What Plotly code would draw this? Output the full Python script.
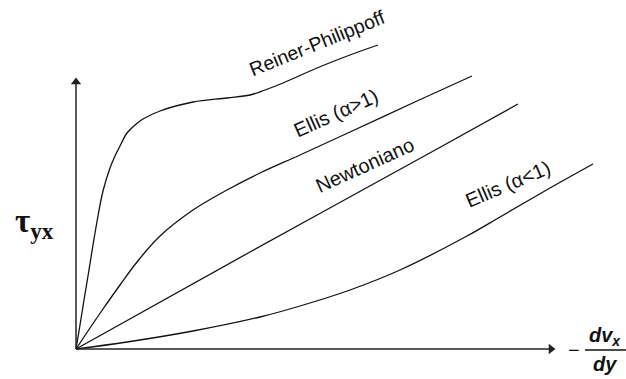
import plotly.graph_objects as go

# Curvas de fluxo (tensão de cisalhamento vs taxa de deformação)
reiner_x = [0, 4, 8, 12, 17, 22, 27, 34, 39, 44, 51, 59, 67, 84, 117, 151, 174, 189, 207, 241, 274, 302]
reiner_y = [0, 24, 49, 73, 104, 133, 158, 181, 193, 203, 216, 224, 230, 238, 247, 251, 254, 259, 266, 281, 294, 304]

ellis_gt_x = [0, 14, 27, 44, 61, 84, 117, 151, 184, 224, 274, 341, 396]
ellis_gt_y = [0, 21, 40, 64, 87, 113, 139, 159, 176, 194, 217, 248, 273]

newton_x = [0, 174, 361, 442]
newton_y = [0, 97, 200, 245]

ellis_lt_x = [0, 51, 117, 184, 224, 274, 324, 391, 424, 474, 517]
ellis_lt_y = [0, 7, 18, 32, 43, 59, 79, 113, 132, 161, 185]

# Extremos dos eixos (com seta)
X_AXIS_END = 475
Y_AXIS_END = 267

LABEL_FONT = "Liberation Sans, Arial, sans-serif"
INK = "#111111"
AXIS = "#222222"

fig = go.Figure()

for xs, ys in [(reiner_x, reiner_y), (ellis_gt_x, ellis_gt_y),
               (newton_x, newton_y), (ellis_lt_x, ellis_lt_y)]:
    fig.add_trace(go.Scatter(
        x=xs, y=ys, mode="lines",
        line=dict(color=INK, width=1.3, shape="spline", smoothing=1.0),
        hoverinfo="skip", showlegend=False,
    ))

# eixos
fig.add_trace(go.Scatter(x=[0, X_AXIS_END], y=[0, 0], mode="lines",
                         line=dict(color=AXIS, width=1.5),
                         hoverinfo="skip", showlegend=False))
fig.add_trace(go.Scatter(x=[0, 0], y=[0, Y_AXIS_END], mode="lines",
                         line=dict(color=AXIS, width=1.5),
                         hoverinfo="skip", showlegend=False))
# pontas das setas
fig.add_trace(go.Scatter(x=[X_AXIS_END], y=[0], mode="markers",
                         marker=dict(symbol="triangle-right", size=9, color=AXIS),
                         cliponaxis=False, hoverinfo="skip", showlegend=False))
fig.add_trace(go.Scatter(x=[0], y=[Y_AXIS_END], mode="markers",
                         marker=dict(symbol="triangle-up", size=9, color=AXIS),
                         cliponaxis=False, hoverinfo="skip", showlegend=False))

# rótulos das curvas
labels = [
    ("Reiner-Philippoff", 241, 306, -22, 19.5),
    ("Ellis (\u03b1>1)", 260, 236, -24, 20),
    ("Newtoniano", 289, 184, -24.5, 20),
    ("Ellis (\u03b1<1)", 432, 165, -23, 20),
]
for text, lx, ly, ang, fs in labels:
    fig.add_annotation(x=lx, y=ly, text=text, showarrow=False, textangle=ang,
                       font=dict(family=LABEL_FONT, size=fs, color=INK))

# rótulo do eixo y
fig.add_annotation(x=-42, y=126, text="<b>\u03c4<sub>yx</sub></b>", showarrow=False,
                   font=dict(family="Liberation Serif, Times New Roman, serif",
                             size=33, color=INK))

# rótulo do eixo x: -dv_x/dy
fig.add_annotation(x=498, y=-1, text="\u2212", showarrow=False,
                   font=dict(family=LABEL_FONT, size=20, color=INK))
fig.add_annotation(x=529, y=13, text="<b><i>dv<sub>x</sub></i></b>", showarrow=False,
                   font=dict(family=LABEL_FONT, size=20, color=INK))
fig.add_annotation(x=529, y=-15, text="<b><i>dy</i></b>", showarrow=False,
                   font=dict(family=LABEL_FONT, size=20, color=INK))
fig.add_shape(type="line", x0=509, x1=550, y0=-1, y1=-1, xref="x", yref="y",
              line=dict(color=INK, width=1.3))

fig.update_layout(
    width=626, height=379,
    margin=dict(l=0, r=0, t=0, b=0),
    plot_bgcolor="white", paper_bgcolor="white",
    xaxis=dict(range=[-76, 550], visible=False, fixedrange=True),
    yaxis=dict(range=[-30, 349], visible=False, fixedrange=True),
)

fig.write_html("out.html", config={"displayModeBar": False},
               post_script="document.body.style.margin='0';")
